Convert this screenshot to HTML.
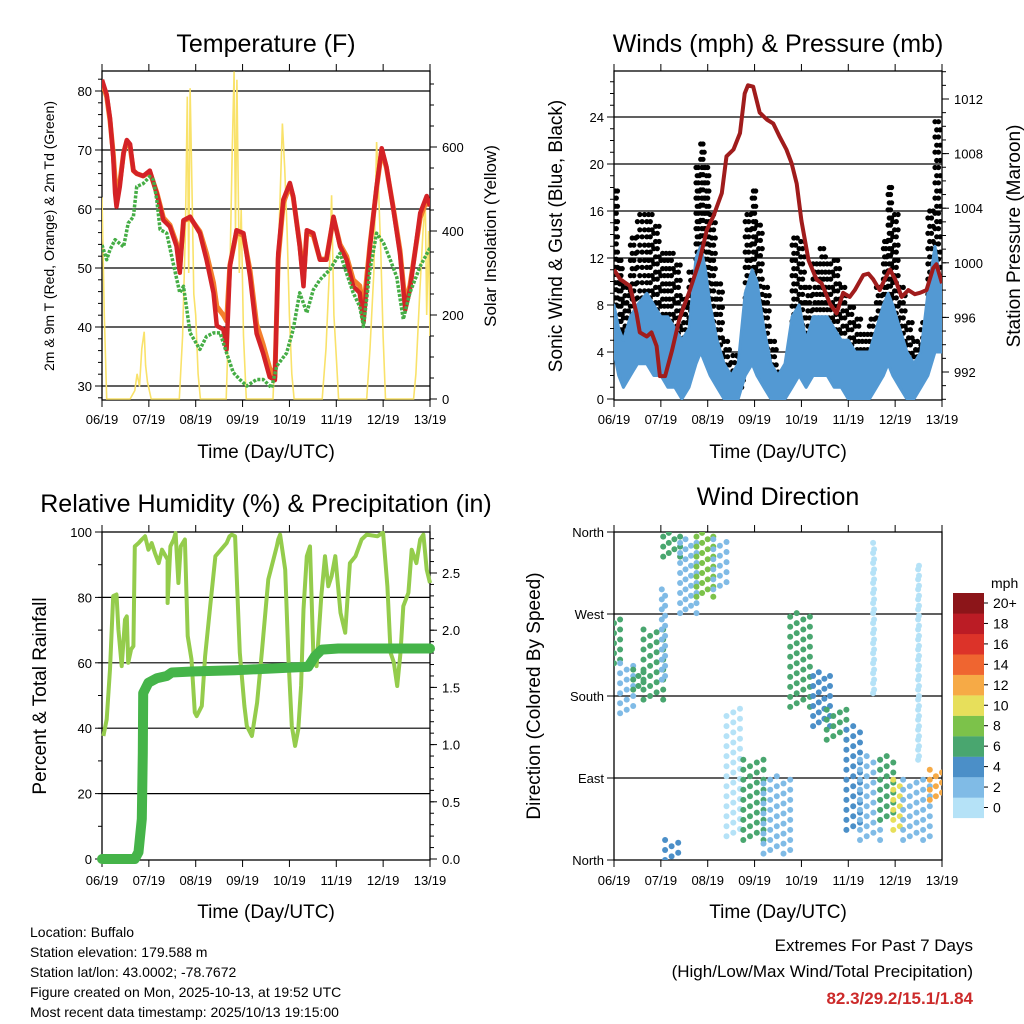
<!DOCTYPE html>
<html><head><meta charset="utf-8">
<style>
html,body{margin:0;padding:0;background:#fff;}
svg{display:block;font-family:"Liberation Sans",Arial,sans-serif;}
</style></head>
<body>
<svg id="chart" xmlns="http://www.w3.org/2000/svg" width="1024" height="1024" viewBox="0 0 1024 1024">
<rect width="1024" height="1024" fill="#fff"/>
<text x="266" y="52" font-size="25" text-anchor="middle">Temperature (F)</text>
<text x="778" y="52" font-size="25" text-anchor="middle">Winds (mph) &amp; Pressure (mb)</text>
<text x="266" y="512" font-size="25" text-anchor="middle">Relative Humidity (%) &amp; Precipitation (in)</text>
<text x="778" y="505" font-size="25" text-anchor="middle">Wind Direction</text>
<text x="266" y="458" font-size="19" text-anchor="middle">Time (Day/UTC)</text>
<text x="778" y="458" font-size="19" text-anchor="middle">Time (Day/UTC)</text>
<text x="266" y="918" font-size="19" text-anchor="middle">Time (Day/UTC)</text>
<text x="778" y="918" font-size="19" text-anchor="middle">Time (Day/UTC)</text>
<text transform="translate(54,236) rotate(-90)" font-size="14" text-anchor="middle">2m &amp; 9m T (Red, Orange) &amp; 2m Td (Green)</text>
<text transform="translate(496,236) rotate(-90)" font-size="17" text-anchor="middle">Solar Insolation (Yellow)</text>
<text transform="translate(562,236) rotate(-90)" font-size="19" text-anchor="middle">Sonic Wind &amp; Gust (Blue, Black)</text>
<text transform="translate(1020,236) rotate(-90)" font-size="19" text-anchor="middle">Station Pressure (Maroon)</text>
<text transform="translate(46,696) rotate(-90)" font-size="19" text-anchor="middle">Percent &amp; Total Rainfall</text>
<text transform="translate(540,696) rotate(-90)" font-size="19" text-anchor="middle">Direction (Colored By Speed)</text>
<g font-size="14">
<text x="30" y="937">Location: Buffalo</text>
<text x="30" y="957">Station elevation: 179.588 m</text>
<text x="30" y="977">Station lat/lon: 43.0002; -78.7672</text>
<text x="30" y="997">Figure created on Mon, 2025-10-13, at 19:52 UTC</text>
<text x="30" y="1017">Most recent data timestamp: 2025/10/13 19:15:00</text>
</g>
<text x="973" y="951" font-size="17" text-anchor="end">Extremes For Past 7 Days</text>
<text x="973" y="977" font-size="17" text-anchor="end">(High/Low/Max Wind/Total Precipitation)</text>
<text x="973" y="1004" font-size="17" font-weight="bold" fill="#cc2a2a" text-anchor="end">82.3/29.2/15.1/1.84</text>
<text x="991" y="588" font-size="14">mph</text>
</svg>
<script>
// ---------- data ----------
const dayLabels=["06/19","07/19","08/19","09/19","10/19","11/19","12/19","13/19"];
const tempTimes=[0,.10,.17,.24,.28,.31,.38,.46,.53,.60,.67,.74,.88,1.02,1.17,1.31,1.45,1.59,1.66,1.74,1.88,2.09,2.23,2.38,2.45,2.59,2.66,2.73,2.87,3.02,3.16,3.30,3.44,3.58,3.69,3.76,3.87,4.01,4.08,4.22,4.30,4.37,4.51,4.65,4.79,4.94,5.08,5.22,5.36,5.50,5.58,5.72,5.86,5.97,6.07,6.22,6.36,6.47,6.57,6.79,6.93,7.0];
const temp2m=[81.9,79.4,75.4,68.9,62.7,60.4,63.8,69.5,71.7,71,66.5,66,65.6,66.5,62.6,58.1,57,53.7,49.2,58.1,58.7,55.9,51.4,45.8,40.2,39.6,36.2,50.3,56.4,55.9,48.5,38.9,35.5,31.5,31,52.4,61.6,64.4,62.2,53.7,46.9,56.4,55.9,51.4,51.4,58.7,53.7,51.4,46.9,45.8,40.8,53.7,63.8,70.3,67.2,59.8,52.4,42.9,46.3,59.3,62.2,60.5];
const temp9m=[81.5,79,75,69.5,65,63,64.5,69.5,71.5,70.5,66.5,66,65.6,66.3,62.8,58.5,57.3,54.2,50.5,58,58.5,56.2,52.5,47.5,43.5,42,41,50.5,56,55.5,49.5,40.5,37,33,31.5,51.5,61,64,62,54,48,56,55.5,51.5,51.5,58.5,54,52,48,47,43,54,63.5,70,67,60,53,44,47,58.5,61.5,60.5];
const tdTimes=[0,.10,.17,.28,.46,.56,.67,.74,.88,1.02,1.10,1.17,1.24,1.38,1.52,1.66,1.74,1.88,2.09,2.23,2.38,2.52,2.66,2.80,2.94,3.09,3.30,3.44,3.62,3.73,3.94,4.08,4.22,4.37,4.51,4.65,4.86,5.08,5.22,5.36,5.50,5.58,5.72,5.86,6.01,6.15,6.29,6.43,6.57,6.79,7.0];
const dew2m=[53.9,51.4,53.1,54.8,53.6,57.6,58.7,63.8,64.3,65.5,64.9,61.5,56.5,55.9,50.8,45.8,46.9,39,36.2,38.4,39,39,35.6,32.3,31.1,30,31.1,31.1,29.7,33.4,35.6,39.6,45.8,42.4,46.3,48,49.7,52.5,49.1,45.8,43.5,40.1,49.7,55.9,54.2,51.4,48.5,41.3,45.8,50.3,53.4];
const solarTimes=[0,.05,.1,.6,.7,.75,.8,.85,.9,.93,.97,1.05,1.65,1.72,1.78,1.82,1.85,1.88,1.92,1.96,2.0,2.05,2.1,2.65,2.72,2.78,2.82,2.85,2.88,2.93,2.97,3.02,3.08,3.65,3.72,3.8,3.85,3.9,3.95,4.0,4.05,4.1,4.7,4.78,4.85,4.9,4.95,5.0,5.05,5.65,5.72,5.8,5.86,5.9,5.95,6.0,6.05,6.65,6.7,6.78,6.85,6.9,6.93,6.97,7.0];
const solar=[480,200,0,0,20,60,30,120,160,80,40,0,0,150,400,720,300,740,500,250,200,60,0,0,250,600,780,400,760,300,450,150,0,0,200,480,656,550,400,200,60,0,0,120,300,485,200,100,0,0,120,300,612,500,350,150,0,0,60,250,400,469,200,400,150];
const windTimes=[0,.1,.2,.35,.5,.7,.85,1.0,1.15,1.3,1.45,1.6,1.75,1.85,1.95,2.05,2.2,2.35,2.5,2.65,2.8,2.95,3.05,3.2,3.35,3.5,3.65,3.8,3.95,4.1,4.25,4.4,4.55,4.7,4.85,5.0,5.15,5.3,5.45,5.6,5.75,5.85,5.95,6.1,6.25,6.4,6.55,6.7,6.85,7.0];
const windLo=[4,2,1,2,3,3,2,2,1,1,0,1,3,4,3,2,1,0,0,0,2,3,2,1,0,0,0,1,2,1,2,2,2,1,1,0,0,0,0,1,2,3,2,1,0,0,1,2,4,4];
const windHi=[8,6,5,7,8,9,8,7,7,6,5,6,12,13,11,8,5,3,2,3,9,11,10,6,3,2,3,7,8,5,7,7,7,6,5,5,4,4,4,6,8,9,8,6,4,3,4,9,13,9];
const gustLo=[8,4,3,4,6,6,5,4,4,3,2,3,8,10,8,4,2,1,.5,1,6,8,7,3,1,1,1,4,5,3,5,5,5,4,3,2,1,1,1,3,5,7,6,3,2,1,2,5,8,6];
const gustHi=[18,12,10,14,16,16,15,13,13,12,9,11,20,22,20,16,10,5,4,4,16,18,15,10,5,2.5,3,14,14,10,12,13,12,12,10,8,7,6,7,10,14,18,16,10,7,5,7,16,24,14];
const presTimes=[0,.13,.34,.48,.55,.70,.80,.91,.98,1.09,1.24,1.39,1.49,1.60,1.83,1.98,2.12,2.30,2.40,2.55,2.69,2.79,2.86,2.97,3.11,3.26,3.40,3.54,3.68,3.79,3.90,4.00,4.15,4.32,4.43,4.61,4.75,4.89,5.03,5.14,5.32,5.43,5.53,5.67,5.78,5.89,6.00,6.14,6.28,6.42,6.53,6.67,6.81,6.88,7.0];
const pressure=[999.5,998.8,998.3,996.3,994.9,994.6,994.9,993.9,991.7,991.7,993.6,995.8,996.8,997.8,1000.2,1002.4,1003.4,1005.1,1007.8,1008.3,1009.5,1012.4,1013.0,1012.9,1011.0,1010.5,1010.2,1009.2,1008.3,1007.3,1005.8,1003.1,1000.2,998.8,998.5,997.0,996.3,997.8,997.5,998.0,999.1,999.2,998.8,998.0,998.8,999.5,998.8,997.5,998.0,997.7,997.8,998.0,999.6,999.9,998.5];
const rhTimes=[0.03,.10,.17,.24,.31,.35,.42,.49,.53,.56,.62,.67,.70,.78,.85,.92,.99,1.06,1.13,1.21,1.28,1.40,1.40,1.46,1.53,1.57,1.63,1.68,1.77,1.83,1.91,1.98,2.02,2.13,2.20,2.31,2.42,2.66,2.72,2.77,2.84,2.94,3.04,3.09,3.20,3.31,3.41,3.55,3.73,3.76,3.80,3.91,3.98,4.05,4.12,4.19,4.25,4.30,4.37,4.44,4.51,4.58,4.68,4.76,4.83,4.90,4.98,5.09,5.19,5.29,5.41,5.54,5.65,5.88,5.98,6.00,6.09,6.16,6.23,6.30,6.37,6.43,6.54,6.61,6.71,6.79,6.86,6.93,7.0];
const rh=[37.6,42.7,58,80.4,80.9,70.2,59,73.2,74.2,60,64.1,65.1,95.6,96.6,97.7,98.7,94.6,96.6,93.6,90.5,94.6,91.6,78.3,95.6,97.7,99.7,84.4,95.6,97.7,68.2,61,44.8,43.7,46.8,62,77.3,92.6,96.6,98.7,99.2,98.7,63.1,46.8,40.7,37.6,47.8,63.1,85.5,95.6,97.7,99.2,88.5,61,40.7,34.6,39.7,52.9,76.3,92.6,95.6,63.1,59,80.4,92.6,83.4,86.5,92.6,75.3,69.2,90.5,92.6,97.7,99.2,98.7,99.7,99.7,83.4,63.1,60,52.9,63.1,77.3,81.4,94.6,90.5,97.7,99.2,88.5,84.4,76.3,78.3,73.2,77.3];
const precipTimes=[0,.70,.78,.85,.87,.88,.99,1.17,1.38,1.49,1.98,2.84,4.40,4.54,4.69,5.04,7.0];
const precip=[0,0,.06,.35,.93,1.45,1.54,1.58,1.6,1.63,1.64,1.65,1.68,1.77,1.83,1.84,1.84];
const dirStart=[0,.13,.41,.63,1.02,1.05,1.41,1.76,2.12,2.40,2.76,3.19,3.76,4.25,4.54,4.96,5.25,5.68,5.96,6.17,6.74,1.09,5.53,6.49];
const dirEnd=[.13,.41,.63,1.05,1.09,1.41,1.76,2.12,2.40,2.69,3.19,3.76,4.18,4.61,4.96,5.25,5.68,5.96,6.10,6.74,7.0,1.37,5.55,6.51];
const dirLo=[216,161,187,176,198,333,271,289,297,26,22,7,168,147,132,33,22,44,33,22,66,0,183,110];
const dirHi=[267,216,212,253,300,359,352,359,355,168,110,92,271,209,168,147,117,117,88,88,99,22,348,326];
const dirSpeed=[7,3,7,6,3,6,2,9,3,1,7,2,7,5,6,4,3,7,11,3,13,4,1,1];
const speedBins=["0","2","4","6","8","10","12","14","16","18","20+"];
const speedColors=["#b5e2f7","#80bbe6","#4b8fc8","#49a66f","#7cc24a","#e7df5b","#f6aa46","#ef6530","#dc3329","#bb1c25","#8c1519"];

// ---------- helpers ----------
const NS="http://www.w3.org/2000/svg";
const svg=document.getElementById('chart');
function el(tag,parent,name,attrs){
  const e=document.createElementNS(NS,tag);
  for(const k in attrs) e.setAttribute(k,attrs[k]);
  
  
  parent.appendChild(e);
  return e;
}
function group(name){const g=document.createElementNS(NS,'g');


svg.appendChild(g);return g;}
function pts(ts,vs,xf,yf){return ts.map((t,i)=>xf(t).toFixed(1)+','+yf(vs[i]).toFixed(1)).join(' ');}

const P1={x0:102,x1:430,y0:71,y1:400},P2={x0:614,x1:942,y0:71,y1:400},P3={x0:102,x1:430,y0:532,y1:860},P4={x0:614,x1:942,y0:532,y1:860};
const xs=P=>d=>P.x0+d*(P.x1-P.x0)/7;
const tempY=v=>386-(v-30)*5.9, solarY=v=>399-v*0.42;
const windY=v=>399-v*11.75, presY=p=>372-(p-992)*13.65;
const rhY=v=>859-v*3.27, precipY=v=>859-v*114.4;
const dirY=d=>860-d*328/360;

function frame(P,name,leftTicks,leftY,leftFmt,minorL,rightTicks,rightY,rightFmt,minorR,grid,xlabY){
  const g=group(name+'-axes');
  const cp='clip-'+name;
  const c=el('clipPath',g,name+'-clip',{id:cp});
  el('rect',c,name+'-clip-rect',{x:P.x0,y:P.y0,width:P.x1-P.x0,height:P.y1-P.y0});
  grid.forEach(v=>{const y=leftY(v);
    el('line',g,name+'-gridline',{x1:P.x0,x2:P.x1,y1:y,y2:y,stroke:'#000','stroke-width':1.2});});
  el('rect',g,name+'-frame',{x:P.x0,y:P.y0,width:P.x1-P.x0,height:P.y1-P.y0,fill:'none',stroke:'#000','stroke-width':1.3});
  const xf=xs(P);
  for(let d=0;d<=7;d++){const x=xf(d);
    el('line',g,name+'-x-tick',{x1:x,x2:x,y1:P.y1,y2:P.y1+7,stroke:'#000'});
    el('line',g,name+'-x-top-tick',{x1:x,x2:x,y1:P.y0,y2:P.y0-7,stroke:'#000'});
    const t=el('text',g,name+'-x-tick-label',{x:x,y:xlabY,'font-size':13,'text-anchor':'middle'});t.textContent=dayLabels[d];}
  leftTicks.forEach(v=>{const y=leftY(v);
    el('line',g,name+'-y-tick',{x1:P.x0-7,x2:P.x0,y1:y,y2:y,stroke:'#000'});
    const t=el('text',g,name+'-y-tick-label',{x:P.x0-10,y:y+5,'font-size':13,'text-anchor':'end'});t.textContent=leftFmt(v);});
  minorL.forEach(v=>{const y=leftY(v);if(y>=P.y0&&y<=P.y1)el('line',g,name+'-y-minor-tick',{x1:P.x0-4,x2:P.x0,y1:y,y2:y,stroke:'#000'});});
  rightTicks.forEach(v=>{const y=rightY(v);
    el('line',g,name+'-y2-tick',{x1:P.x1,x2:P.x1+7,y1:y,y2:y,stroke:'#000'});
    const t=el('text',g,name+'-y2-tick-label',{x:P.x1+12,y:y+5,'font-size':13});t.textContent=rightFmt(v);});
  minorR.forEach(v=>{const y=rightY(v);if(y>=P.y0&&y<=P.y1)el('line',g,name+'-y2-minor-tick',{x1:P.x1,x2:P.x1+4,y1:y,y2:y,stroke:'#000'});});
  return 'url(#'+cp+')';
}
const rng=(a,b,s)=>{const r=[];for(let v=a;v<=b+1e-9;v+=s)r.push(+v.toFixed(3));return r;};

// ---------- panel 1 ----------
let clip=frame(P1,'temperature',[30,40,50,60,70,80],tempY,v=>v,rng(26,84,2),[0,200,400,600],solarY,v=>v,rng(0,780,50),[30,40,50,60,70,80],424);
let g=group('temperature-series');g.setAttribute('clip-path',clip);
let x1=xs(P1);
el('polyline',g,'solar-line',{points:pts(solarTimes,solar,x1,solarY),fill:'none',stroke:'#f9e26a','stroke-width':1.6});
el('polyline',g,'temp-9m-line',{points:pts(tempTimes,temp9m,x1,tempY),fill:'none',stroke:'#f47f2c','stroke-width':5,'stroke-linejoin':'round'});
el('polyline',g,'temp-2m-line',{points:pts(tempTimes,temp2m,x1,tempY),fill:'none',stroke:'#d42226','stroke-width':4.5,'stroke-linejoin':'round'});
el('polyline',g,'dewpoint-line',{points:pts(tdTimes,dew2m,x1,tempY),fill:'none',stroke:'#45ad45','stroke-width':3.5,'stroke-dasharray':'3 1.5','stroke-linejoin':'round'});

// ---------- panel 2 ----------
clip=frame(P2,'winds',[0,4,8,12,16,20,24],windY,v=>v,rng(0,27,1),[992,996,1000,1004,1008,1012],presY,v=>v,rng(990,1014,1),[4,8,12,16,20,24],424);
g=group('winds-series');g.setAttribute('clip-path',clip);
let x2=xs(P2);
const gustG=el('g',g,'gust-dots',{fill:'#000'});
windTimes.forEach((t,i)=>{
  if(i===windTimes.length-1)return;
  const tn=windTimes[i+1];
  for(let k=0;k<4;k++){const tt=t+(tn-t)*k/4;
    for(let v=gustLo[i]+(k%2)*0.6;v<=gustHi[i]+1e-6;v+=1.3){
      el('circle',gustG,'gust-dot',{cx:x2(tt).toFixed(1),cy:windY(v).toFixed(1),r:2.6});}}
});
const bandPts=pts(windTimes,windHi,x2,windY)+' '+pts(windTimes.slice().reverse(),windLo.slice().reverse(),x2,windY);
el('polygon',g,'sonic-wind-band',{points:bandPts,fill:'#5399d3',stroke:'#5399d3','stroke-width':3,'stroke-linejoin':'round'});
el('polyline',g,'pressure-line',{points:pts(presTimes,pressure,x2,presY),fill:'none',stroke:'#a01c1c','stroke-width':4,'stroke-linejoin':'round'});

// ---------- panel 3 ----------
clip=frame(P3,'humidity',[0,20,40,60,80,100],rhY,v=>v,rng(0,100,10),[0,.5,1,1.5,2,2.5],precipY,v=>v.toFixed(1),rng(0,2.85,.1),[20,40,60,80],885);
g=group('humidity-series');
let x3=xs(P3);
el('polyline',g,'rh-line',{points:pts(rhTimes,rh,x3,rhY),fill:'none',stroke:'#94cc4c','stroke-width':4,'stroke-linejoin':'round'});
el('polyline',g,'precip-line',{points:pts(precipTimes,precip,x3,precipY),fill:'none',stroke:'#45b449','stroke-width':10,'stroke-linejoin':'round','stroke-linecap':'round'});

// ---------- panel 4 ----------
const dirNames=["North","East","South","West","North"];
clip=frame(P4,'direction',[0,90,180,270,360],dirY,v=>dirNames[v/90],[],[],dirY,v=>v,[],[90,180,270],885);
g=group('direction-series');g.setAttribute('clip-path',clip);
let x4=xs(P4);
dirStart.forEach((t0,i)=>{
  const t1=dirEnd[i];const bin=Math.min(10,Math.floor(dirSpeed[i]/2));
  const nT=Math.max(1,Math.round((x4(t1)-x4(t0))/6));
  for(let a=0;a<=nT;a++){const tt=t0+(t1-t0)*a/nT;
    for(let d=dirLo[i]+(a%3)*4;d<=dirHi[i];d+=11){
      el('circle',g,'direction-dot',{cx:x4(tt).toFixed(1),cy:dirY(d).toFixed(1),r:3,fill:speedColors[bin]});}}
});
const cb=group('speed-colorbar');
speedBins.forEach((s,i)=>{const y=593+(10-i)*20.45;
  el('rect',cb,'colorbar-box',{x:953,y:y,width:31,height:20.6,fill:speedColors[i]});
  el('line',cb,'colorbar-tick',{x1:984,x2:988,y1:y+10,y2:y+10,stroke:'#000'});
  const t=el('text',cb,'colorbar-label',{x:993,y:y+15,'font-size':14});t.textContent=s;});
</script>
</body></html>
